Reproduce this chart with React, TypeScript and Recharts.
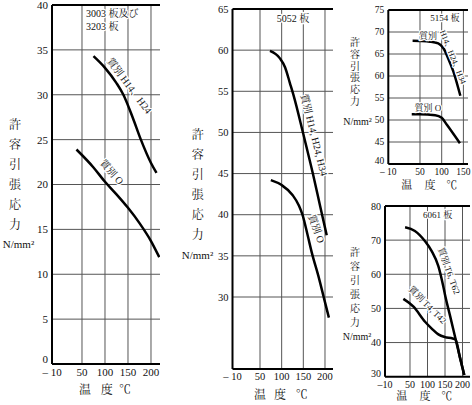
import React from 'react';
import { LineChart, Line, XAxis, YAxis, ReferenceLine, ReferenceArea, ReferenceDot } from 'recharts';

const FONT = "'Liberation Serif', 'Noto Serif CJK JP', 'Noto Sans CJK JP', serif";

// ---- Panel A : 3003 / 3203 板 ----
const A_H_TEMP = [75, 100, 125, 140, 160, 178, 200, 212];
const A_H_STRESS = [34.3, 33.0, 31.3, 30.0, 27.5, 25.0, 22.4, 21.3];
const A_O_TEMP = [38, 75, 100, 125, 150, 175, 200, 218];
const A_O_STRESS = [23.9, 21.9, 20.3, 18.9, 17.4, 15.7, 13.7, 11.9];
const A_Y_TICKS = [0, 5, 10, 15, 20, 25, 30, 35, 40];

// ---- Panel B : 5052 板 ----
const B_H_TEMP = [73, 96, 108, 119, 127, 150, 172, 189, 204];
const B_H_STRESS = [59.9, 59.0, 57.9, 56.0, 54.6, 49.8, 45.0, 41.0, 37.5];
const B_O_TEMP = [75, 100, 125, 140, 148, 160, 170, 185, 197, 209];
const B_O_STRESS = [44.2, 43.6, 42.4, 41.1, 40.0, 37.5, 35.3, 32.5, 30.0, 27.5];
const B_Y_TICKS = [30, 35, 40, 45, 50, 55, 60, 65];

// ---- Panel C : 5154 板 ----
const C_H_TEMP = [33, 50, 73, 92, 104, 115, 127, 143];
const C_H_STRESS = [68.0, 67.95, 67.8, 67.4, 66.3, 64.0, 61.0, 55.5];
const C_O_TEMP = [31, 50, 85, 100, 112, 142];
const C_O_STRESS = [51.3, 51.3, 51.1, 50.5, 48.9, 44.7];
const C_Y_TICKS = [40, 45, 50, 55, 60, 65, 70, 75];

// ---- Panel D : 6061 板 ----
const D_T6_TEMP = [36, 64, 93, 112, 131, 145, 150, 165, 180, 193, 205];
const D_T6_STRESS = [73.8, 72.7, 69.7, 66.8, 62.4, 56.5, 54.0, 47.6, 41.1, 35.5, 30.5];
const D_T4_TEMP = [31, 60, 93, 112, 131, 150, 172, 180, 193, 205];
const D_T4_STRESS = [52.8, 50.5, 46.1, 44.1, 42.4, 41.6, 41.2, 40.9, 35.5, 30.5];
const D_Y_TICKS = [30, 40, 50, 60, 70, 80];

const X_GRID = [50, 100, 150, 200];
const X_GRID_C = [50, 100, 150];
const X_TICK_LABELS = ['– 10', '50', '100', '150', '200'];
const X_TICK_LABELS_C = ['– 10', '50', '100', '150'];
const X_TICK_LABELS_D = ['–10', '50', '100', '150', '200'];

const zip = (ts: number[], vs: number[]) => ts.map((t, i) => ({ t, v: vs[i] }));

type Note = { t: number; v: number; text: string; angle?: number; anchor?: string; size: number };
type Box = { x1: number; x2: number; y1: number; y2: number };

function NoteText(props: any) {
  const { cx, cy, note } = props;
  const n: Note = note;
  return (
    <text
      x={cx}
      y={cy}
      transform={n.angle ? `rotate(${n.angle} ${cx} ${cy})` : undefined}
      textAnchor={(n.anchor as any) || 'middle'}
      dominantBaseline="central"
      fontSize={n.size}
      fontFamily={FONT}
      fill="#111"
      stroke="#fff"
      strokeWidth={2.5}
      strokeLinejoin="round"
      paintOrder="stroke"
    >
      {n.text}
    </text>
  );
}

function Panel(props: {
  left: number; top: number; width: number; height: number;
  margin: any; yWidth: number;
  xDomain: [number, number]; xTicks: number[]; xLabels: string[]; xGrid: number[];
  yDomain: [number, number]; yTicks: number[]; bottomShift: number;
  fontSize: number; series: { t: number; v: number }[][];
  notes: Note[]; boxes: Box[];
}) {
  const p = props;
  const tickStyle = { fontSize: p.fontSize, fill: '#111', fontFamily: FONT };
  const yGrid = p.yTicks.filter((v) => v !== p.yDomain[0] && v !== p.yDomain[1]);
  const YTick = (tp: any) => {
    const val = tp.payload.value;
    const shift = val === p.yDomain[0] ? p.bottomShift : 0;
    return (
      <text x={tp.x} y={tp.y + shift} dy="0.355em" textAnchor="end" fontSize={p.fontSize} fontFamily={FONT} fill="#111">
        {val}
      </text>
    );
  };
  return (
    <div style={{ position: 'absolute', left: p.left, top: p.top }}>
      <LineChart width={p.width} height={p.height} margin={p.margin} style={{ overflow: 'visible' }}>
        <XAxis
          dataKey="t"
          type="number"
          domain={p.xDomain}
          ticks={p.xTicks}
          allowDataOverflow
          interval={0}
          tickFormatter={(v: number) => p.xLabels[p.xTicks.indexOf(v)] ?? String(v)}
          axisLine={{ stroke: '#000', strokeWidth: 2 }}
          tickLine={false}
          tickSize={0}
          tickMargin={4}
          height={20}
          tick={tickStyle}
        />
        <YAxis
          type="number"
          domain={p.yDomain}
          ticks={p.yTicks}
          allowDataOverflow
          interval={0}
          width={p.yWidth}
          axisLine={{ stroke: '#000', strokeWidth: 2 }}
          tickLine={false}
          tickSize={0}
          tickMargin={4}
          tick={YTick}
        />
        {p.xGrid.map((x) => (
          <ReferenceLine key={'gx' + x} x={x} stroke="#555" strokeWidth={1} />
        ))}
        {yGrid.map((y) => (
          <ReferenceLine key={'gy' + y} y={y} stroke="#555" strokeWidth={1} />
        ))}
        {p.boxes.map((b, i) => (
          <ReferenceArea key={'b' + i} x1={b.x1} x2={b.x2} y1={b.y1} y2={b.y2} fill="#fff" fillOpacity={1} stroke="none" />
        ))}
        <ReferenceLine y={p.yDomain[1]} stroke="#000" strokeWidth={2} />
        {p.series.map((s, i) => (
          <Line key={'s' + i} data={s} dataKey="v" type="monotone" stroke="#000" strokeWidth={2.5} dot={false} isAnimationActive={false} />
        ))}
        {p.notes.map((n, i) => (
          <ReferenceDot key={'n' + i} x={n.t} y={n.v} r={0} ifOverflow="visible" shape={(sp: any) => <NoteText cx={sp.cx} cy={sp.cy} note={n} />} />
        ))}
      </LineChart>
    </div>
  );
}

function Abs({ x, y, size, children }: any) {
  return (
    <div style={{
      position: 'absolute', left: x, top: y, transform: 'translate(-50%, -50%)',
      fontSize: size, fontFamily: FONT, color: '#111', whiteSpace: 'nowrap', lineHeight: 1,
    }}>{children}</div>
  );
}

const Y_TITLE = ['許', '容', '引', '張', '応', '力'];

function YTitle({ x, y0, step, size, ux, uy, usize }: any) {
  return (
    <>
      {Y_TITLE.map((c, i) => <Abs key={i} x={x} y={y0 + i * step} size={size}>{c}</Abs>)}
      <Abs x={ux} y={uy} size={usize}>N/mm²</Abs>
    </>
  );
}

function XTitle({ xs, y, size }: any) {
  const chars = ['温', '度', '℃'];
  return <>{chars.map((c, i) => <Abs key={i} x={xs[i]} y={y} size={size}>{c}</Abs>)}</>;
}

export default function App() {
  return (
    <div style={{ position: 'absolute', left: 0, top: 0, width: 472, height: 405, background: '#fff', overflow: 'hidden' }}>
      <Panel
        left={0} top={0} width={170} height={405}
        margin={{ top: 5, right: 10, bottom: 21, left: 0 }} yWidth={52}
        xDomain={[-15.2, 219.6]} xTicks={[-15.2, 50, 100, 150, 200]} xLabels={X_TICK_LABELS} xGrid={X_GRID}
        yDomain={[0, 40]} yTicks={A_Y_TICKS} bottomShift={-5} fontSize={11}
        series={[zip(A_H_TEMP, A_H_STRESS), zip(A_O_TEMP, A_O_STRESS)]}
        boxes={[{ x1: 55, x2: 175, y1: 37.0, y2: 39.8 }]}
        notes={[
          { t: 58.7, v: 39.0, text: '3003 板及び', anchor: 'start', size: 10 },
          { t: 58.7, v: 37.66, text: '3203 板', anchor: 'start', size: 10 },
          { t: 153, v: 31.0, text: '質別 H14、H24', angle: 53, size: 10 },
          { t: 114.6, v: 21.4, text: '質別 O', angle: 48, size: 10 },
        ]}
      />
      <Panel
        left={180} top={0} width={160} height={405}
        margin={{ top: 9, right: 7, bottom: 16, left: 0 }} yWidth={52.5}
        xDomain={[-13.5, 218.5]} xTicks={[-13.5, 50, 100, 150, 200]} xLabels={X_TICK_LABELS} xGrid={X_GRID}
        yDomain={[21.25, 65]} yTicks={B_Y_TICKS} bottomShift={0} fontSize={10.5}
        series={[zip(B_H_TEMP, B_H_STRESS), zip(B_O_TEMP, B_O_STRESS)]}
        boxes={[{ x1: 75, x2: 175, y1: 63.05, y2: 64.85 }]}
        notes={[
          { t: 126, v: 63.8, text: '5052 板', size: 10 },
          { t: 175, v: 49.7, text: '質別 H14, H24, H34', angle: 76, size: 10 },
          { t: 180, v: 38.3, text: '質別 O', angle: 70, size: 10 },
        ]}
      />
      <Panel
        left={340} top={0} width={132} height={200}
        margin={{ top: 10, right: 4, bottom: 16, left: 0 }} yWidth={48.3}
        xDomain={[-23, 160.6]} xTicks={[-23, 50, 100, 150]} xLabels={X_TICK_LABELS_C} xGrid={X_GRID_C}
        yDomain={[40, 75]} yTicks={C_Y_TICKS} bottomShift={-3} fontSize={9.5}
        series={[zip(C_H_TEMP, C_H_STRESS), zip(C_O_TEMP, C_O_STRESS)]}
        boxes={[{ x1: 75, x2: 140, y1: 71.6, y2: 74.8 }]}
        notes={[
          { t: 107.6, v: 73.1, text: '5154 板', size: 9 },
          { t: 68.4, v: 69.1, text: '質別', size: 9 },
          { t: 125.5, v: 64.3, text: 'H14、H24、H34', angle: 68, size: 8 },
          { t: 68.4, v: 52.7, text: '質別 O', size: 9 },
        ]}
      />
      <Panel
        left={340} top={195} width={132} height={210}
        margin={{ top: 11, right: 2, bottom: 8.3, left: 0 }} yWidth={45}
        xDomain={[-21.4, 221.4]} xTicks={[-21.4, 50, 100, 150, 200]} xLabels={X_TICK_LABELS_D} xGrid={X_GRID}
        yDomain={[30, 80]} yTicks={D_Y_TICKS} bottomShift={-3} fontSize={10}
        series={[zip(D_T6_TEMP, D_T6_STRESS), zip(D_T4_TEMP, D_T4_STRESS)]}
        boxes={[{ x1: 84, x2: 170, y1: 75.3, y2: 79.8 }]}
        notes={[
          { t: 128.6, v: 77.4, text: '6061 板', size: 9 },
          { t: 161, v: 61.0, text: '質別 T6, T62', angle: 70, size: 9 },
          { t: 100, v: 51.0, text: '質別 T4, T42', angle: 45, size: 9 },
        ]}
      />

      <YTitle x={15} y0={125} step={20} size={12} ux={18.5} uy={244} usize={11} />
      <YTitle x={197.7} y0={135} step={20} size={12} ux={197.5} uy={255} usize={11} />
      <YTitle x={355} y0={43} step={11.8} size={10} ux={357.5} uy={121.7} usize={10} />
      <YTitle x={355} y0={253} step={14} size={10} ux={357} uy={337} usize={10} />

      <XTitle xs={[85, 106.7, 125]} y={390} size={12} />
      <XTitle xs={[260, 280, 301.7]} y={395} size={12} />
      <XTitle xs={[406.7, 430, 451.7]} y={185} size={11} />
      <XTitle xs={[401.7, 425, 446.7]} y={396} size={11} />
    </div>
  );
}
